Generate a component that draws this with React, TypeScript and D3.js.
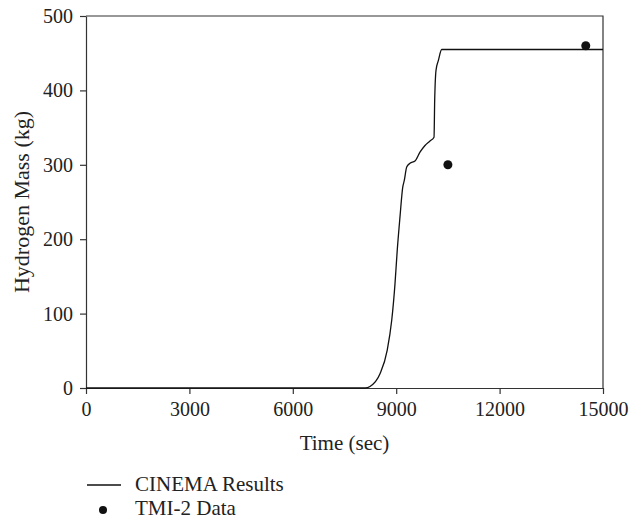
import React, { useRef, useEffect } from 'react';
import * as d3 from 'd3';

// CINEMA simulation curve (time in sec, hydrogen mass in kg)
const cinemaTime = [0, 8100, 8240, 8530, 8740, 8870, 8965, 9030, 9110, 9190, 9235, 9305, 9400, 9545, 9690, 9836, 9980, 10097, 10117, 10155, 10222, 10320, 15000];
const cinemaMass = [0, 0, 2, 19, 51, 91, 140, 185, 230, 270, 279, 297, 302, 305, 317, 326, 332, 337, 387, 427, 440, 455, 455];

// TMI-2 measured data
const tmiTime = [10500, 14500];
const tmiMass = [300, 460];

const xTicks = [0, 3000, 6000, 9000, 12000, 15000];
const yTicks = [0, 100, 200, 300, 400, 500];

const App = () => {
  const svgRef = useRef<SVGSVGElement>(null);

  const width = 631;
  const height = 520;
  const margin = { top: 16, right: 28, bottom: 132, left: 86 };
  const font = '"Liberation Serif", "Times New Roman", serif';

  useEffect(() => {
    const svg = d3.select(svgRef.current);
    svg.selectAll('*').remove();

    const x = d3.scaleLinear().domain([0, 15000]).range([margin.left, width - margin.right]);
    const y = d3.scaleLinear().domain([0, 500]).range([height - margin.bottom, margin.top]);

    // frame (top and right)
    svg.append('path')
      .attr('d', `M${x(0)},${y(500)}H${x(15000)}V${y(0)}`)
      .attr('fill', 'none')
      .attr('stroke', '#333')
      .attr('stroke-width', 1.2);

    // x axis
    const xAxis = svg.append('g')
      .attr('transform', `translate(0,${y(0)})`)
      .call(d3.axisBottom(x).tickValues(xTicks).tickSize(6).tickSizeOuter(0).tickFormat(d3.format('d')));
    xAxis.selectAll('path, line').attr('stroke', '#333').attr('stroke-width', 1.2);
    xAxis.selectAll('text')
      .attr('font-family', font)
      .attr('font-size', 20)
      .attr('fill', '#222')
      .attr('y', 28)
      .attr('dy', 0);

    // y axis
    const yAxis = svg.append('g')
      .attr('transform', `translate(${x(0)},0)`)
      .call(d3.axisLeft(y).tickValues(yTicks).tickSize(6).tickSizeOuter(0).tickFormat(d3.format('d')));
    yAxis.selectAll('path, line').attr('stroke', '#333').attr('stroke-width', 1.2);
    yAxis.selectAll('text')
      .attr('font-family', font)
      .attr('font-size', 20)
      .attr('fill', '#222')
      .attr('x', -13);

    // CINEMA curve
    const line = d3.line<number>()
      .x((_, i) => x(cinemaTime[i]))
      .y(d => y(d))
      .curve(d3.curveMonotoneX);
    svg.append('path')
      .datum(cinemaMass)
      .attr('d', line)
      .attr('fill', 'none')
      .attr('stroke', '#111')
      .attr('stroke-width', 1.3);

    // TMI-2 points
    svg.append('g')
      .selectAll('circle')
      .data(tmiMass)
      .join('circle')
      .attr('cx', (_, i) => x(tmiTime[i]))
      .attr('cy', d => y(d))
      .attr('r', 4.5)
      .attr('fill', '#111');

    // axis titles
    svg.append('text')
      .attr('x', (x(0) + x(15000)) / 2)
      .attr('y', 450)
      .attr('text-anchor', 'middle')
      .attr('font-family', font)
      .attr('font-size', 21)
      .attr('fill', '#222')
      .text('Time (sec)');

    svg.append('text')
      .attr('transform', `translate(29,${(y(0) + y(500)) / 2}) rotate(-90)`)
      .attr('text-anchor', 'middle')
      .attr('font-family', font)
      .attr('font-size', 22)
      .attr('fill', '#222')
      .text('Hydrogen Mass (kg)');

    // legend
    const lg = svg.append('g');
    lg.append('line')
      .attr('x1', 87).attr('x2', 121)
      .attr('y1', 485).attr('y2', 485)
      .attr('stroke', '#111').attr('stroke-width', 1.3);
    lg.append('text')
      .attr('x', 135).attr('y', 491)
      .attr('font-family', font).attr('font-size', 21).attr('fill', '#222')
      .text('CINEMA Results');
    lg.append('circle')
      .attr('cx', 103).attr('cy', 510).attr('r', 4)
      .attr('fill', '#111');
    lg.append('text')
      .attr('x', 135).attr('y', 515)
      .attr('font-family', font).attr('font-size', 21).attr('fill', '#222')
      .text('TMI-2 Data');
  }, []);

  return (
    <svg ref={svgRef} width={width} height={height}
      style={{ position: 'absolute', left: 0, top: 0, background: '#fff' }} />
  );
};

export default App;
